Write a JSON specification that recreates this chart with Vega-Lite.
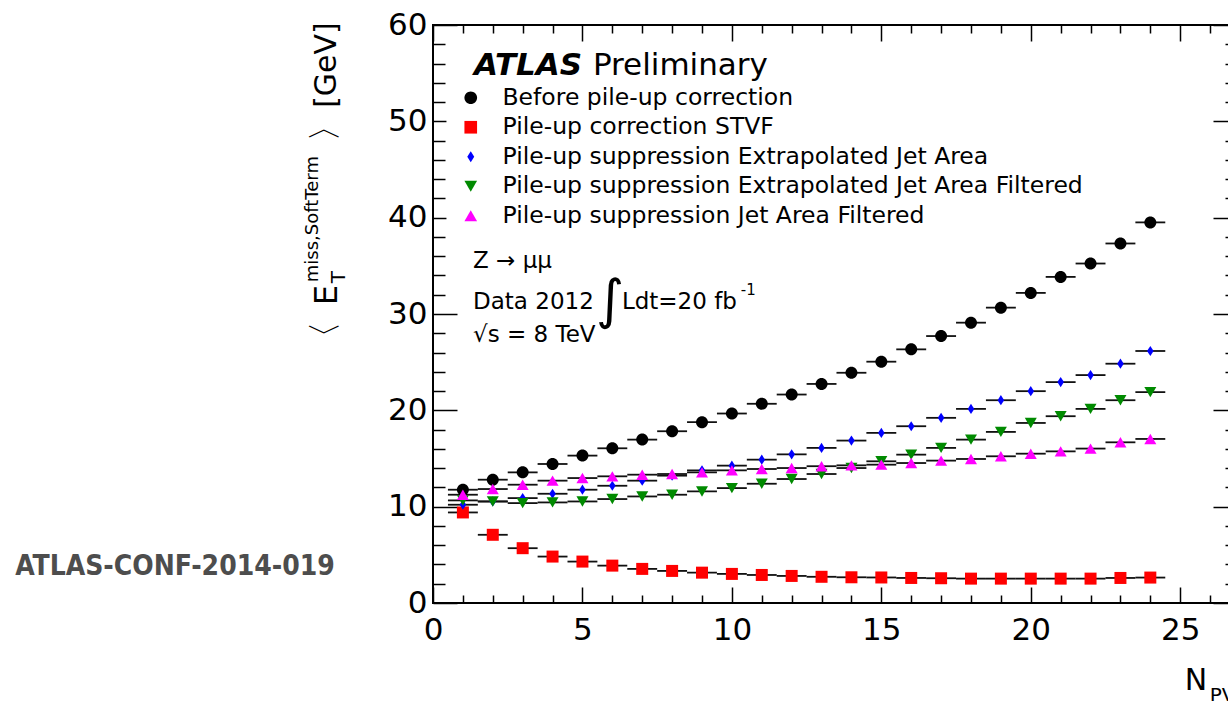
{
  "$schema": "https://vega.github.io/schema/vega-lite/v6.json",
  "width": 804,
  "height": 578,
  "autosize": {"type": "none"},
  "padding": {"left": 433, "top": 25, "right": 0, "bottom": 98},
  "background": "white",
  "config": {
    "view": {"stroke": "black", "strokeWidth": 2},
    "axis": {"domain": false, "grid": false, "labelFont": "DejaVu Sans", "labelFontSize": 31, "labelColor": "black", "tickColor": "black", "tickWidth": 1.5, "labelOverlap": false, "labelFlush": false, "labelBound": false},
    "text": {"font": "DejaVu Sans", "color": "black"}
  },
  "datasets": {
    "pts": [
      {"series": "Before pile-up correction", "x": 1, "y": 11.76},
      {"series": "Before pile-up correction", "x": 2, "y": 12.8},
      {"series": "Before pile-up correction", "x": 3, "y": 13.56},
      {"series": "Before pile-up correction", "x": 4, "y": 14.43},
      {"series": "Before pile-up correction", "x": 5, "y": 15.3},
      {"series": "Before pile-up correction", "x": 6, "y": 16.06},
      {"series": "Before pile-up correction", "x": 7, "y": 16.96},
      {"series": "Before pile-up correction", "x": 8, "y": 17.83},
      {"series": "Before pile-up correction", "x": 9, "y": 18.77},
      {"series": "Before pile-up correction", "x": 10, "y": 19.67},
      {"series": "Before pile-up correction", "x": 11, "y": 20.68},
      {"series": "Before pile-up correction", "x": 12, "y": 21.64},
      {"series": "Before pile-up correction", "x": 13, "y": 22.74},
      {"series": "Before pile-up correction", "x": 14, "y": 23.9},
      {"series": "Before pile-up correction", "x": 15, "y": 25.05},
      {"series": "Before pile-up correction", "x": 16, "y": 26.33},
      {"series": "Before pile-up correction", "x": 17, "y": 27.71},
      {"series": "Before pile-up correction", "x": 18, "y": 29.1},
      {"series": "Before pile-up correction", "x": 19, "y": 30.66},
      {"series": "Before pile-up correction", "x": 20, "y": 32.19},
      {"series": "Before pile-up correction", "x": 21, "y": 33.85},
      {"series": "Before pile-up correction", "x": 22, "y": 35.24},
      {"series": "Before pile-up correction", "x": 23, "y": 37.32},
      {"series": "Before pile-up correction", "x": 24, "y": 39.51},
      {"series": "Pile-up correction STVF", "x": 1, "y": 9.4},
      {"series": "Pile-up correction STVF", "x": 2, "y": 7.08},
      {"series": "Pile-up correction STVF", "x": 3, "y": 5.69},
      {"series": "Pile-up correction STVF", "x": 4, "y": 4.82},
      {"series": "Pile-up correction STVF", "x": 5, "y": 4.3},
      {"series": "Pile-up correction STVF", "x": 6, "y": 3.88},
      {"series": "Pile-up correction STVF", "x": 7, "y": 3.54},
      {"series": "Pile-up correction STVF", "x": 8, "y": 3.33},
      {"series": "Pile-up correction STVF", "x": 9, "y": 3.15},
      {"series": "Pile-up correction STVF", "x": 10, "y": 3.02},
      {"series": "Pile-up correction STVF", "x": 11, "y": 2.91},
      {"series": "Pile-up correction STVF", "x": 12, "y": 2.81},
      {"series": "Pile-up correction STVF", "x": 13, "y": 2.72},
      {"series": "Pile-up correction STVF", "x": 14, "y": 2.67},
      {"series": "Pile-up correction STVF", "x": 15, "y": 2.65},
      {"series": "Pile-up correction STVF", "x": 16, "y": 2.6},
      {"series": "Pile-up correction STVF", "x": 17, "y": 2.57},
      {"series": "Pile-up correction STVF", "x": 18, "y": 2.53},
      {"series": "Pile-up correction STVF", "x": 19, "y": 2.53},
      {"series": "Pile-up correction STVF", "x": 20, "y": 2.53},
      {"series": "Pile-up correction STVF", "x": 21, "y": 2.53},
      {"series": "Pile-up correction STVF", "x": 22, "y": 2.53},
      {"series": "Pile-up correction STVF", "x": 23, "y": 2.6},
      {"series": "Pile-up correction STVF", "x": 24, "y": 2.64},
      {"series": "Pile-up suppression Extrapolated Jet Area", "x": 1, "y": 10.2},
      {"series": "Pile-up suppression Extrapolated Jet Area", "x": 2, "y": 10.54},
      {"series": "Pile-up suppression Extrapolated Jet Area", "x": 3, "y": 10.89},
      {"series": "Pile-up suppression Extrapolated Jet Area", "x": 4, "y": 11.34},
      {"series": "Pile-up suppression Extrapolated Jet Area", "x": 5, "y": 11.76},
      {"series": "Pile-up suppression Extrapolated Jet Area", "x": 6, "y": 12.17},
      {"series": "Pile-up suppression Extrapolated Jet Area", "x": 7, "y": 12.7},
      {"series": "Pile-up suppression Extrapolated Jet Area", "x": 8, "y": 13.22},
      {"series": "Pile-up suppression Extrapolated Jet Area", "x": 9, "y": 13.77},
      {"series": "Pile-up suppression Extrapolated Jet Area", "x": 10, "y": 14.26},
      {"series": "Pile-up suppression Extrapolated Jet Area", "x": 11, "y": 14.88},
      {"series": "Pile-up suppression Extrapolated Jet Area", "x": 12, "y": 15.43},
      {"series": "Pile-up suppression Extrapolated Jet Area", "x": 13, "y": 16.1},
      {"series": "Pile-up suppression Extrapolated Jet Area", "x": 14, "y": 16.86},
      {"series": "Pile-up suppression Extrapolated Jet Area", "x": 15, "y": 17.66},
      {"series": "Pile-up suppression Extrapolated Jet Area", "x": 16, "y": 18.35},
      {"series": "Pile-up suppression Extrapolated Jet Area", "x": 17, "y": 19.22},
      {"series": "Pile-up suppression Extrapolated Jet Area", "x": 18, "y": 20.15},
      {"series": "Pile-up suppression Extrapolated Jet Area", "x": 19, "y": 21.05},
      {"series": "Pile-up suppression Extrapolated Jet Area", "x": 20, "y": 21.99},
      {"series": "Pile-up suppression Extrapolated Jet Area", "x": 21, "y": 22.93},
      {"series": "Pile-up suppression Extrapolated Jet Area", "x": 22, "y": 23.66},
      {"series": "Pile-up suppression Extrapolated Jet Area", "x": 23, "y": 24.84},
      {"series": "Pile-up suppression Extrapolated Jet Area", "x": 24, "y": 26.16},
      {"series": "Pile-up suppression Extrapolated Jet Area Filtered", "x": 1, "y": 10.65},
      {"series": "Pile-up suppression Extrapolated Jet Area Filtered", "x": 2, "y": 10.54},
      {"series": "Pile-up suppression Extrapolated Jet Area Filtered", "x": 3, "y": 10.37},
      {"series": "Pile-up suppression Extrapolated Jet Area Filtered", "x": 4, "y": 10.44},
      {"series": "Pile-up suppression Extrapolated Jet Area Filtered", "x": 5, "y": 10.54},
      {"series": "Pile-up suppression Extrapolated Jet Area Filtered", "x": 6, "y": 10.79},
      {"series": "Pile-up suppression Extrapolated Jet Area Filtered", "x": 7, "y": 11.06},
      {"series": "Pile-up suppression Extrapolated Jet Area Filtered", "x": 8, "y": 11.24},
      {"series": "Pile-up suppression Extrapolated Jet Area Filtered", "x": 9, "y": 11.58},
      {"series": "Pile-up suppression Extrapolated Jet Area Filtered", "x": 10, "y": 11.93},
      {"series": "Pile-up suppression Extrapolated Jet Area Filtered", "x": 11, "y": 12.38},
      {"series": "Pile-up suppression Extrapolated Jet Area Filtered", "x": 12, "y": 12.87},
      {"series": "Pile-up suppression Extrapolated Jet Area Filtered", "x": 13, "y": 13.39},
      {"series": "Pile-up suppression Extrapolated Jet Area Filtered", "x": 14, "y": 14.01},
      {"series": "Pile-up suppression Extrapolated Jet Area Filtered", "x": 15, "y": 14.71},
      {"series": "Pile-up suppression Extrapolated Jet Area Filtered", "x": 16, "y": 15.4},
      {"series": "Pile-up suppression Extrapolated Jet Area Filtered", "x": 17, "y": 16.1},
      {"series": "Pile-up suppression Extrapolated Jet Area Filtered", "x": 18, "y": 16.96},
      {"series": "Pile-up suppression Extrapolated Jet Area Filtered", "x": 19, "y": 17.76},
      {"series": "Pile-up suppression Extrapolated Jet Area Filtered", "x": 20, "y": 18.69},
      {"series": "Pile-up suppression Extrapolated Jet Area Filtered", "x": 21, "y": 19.39},
      {"series": "Pile-up suppression Extrapolated Jet Area Filtered", "x": 22, "y": 20.15},
      {"series": "Pile-up suppression Extrapolated Jet Area Filtered", "x": 23, "y": 21.05},
      {"series": "Pile-up suppression Extrapolated Jet Area Filtered", "x": 24, "y": 21.89},
      {"series": "Pile-up suppression Jet Area Filtered", "x": 1, "y": 11.24},
      {"series": "Pile-up suppression Jet Area Filtered", "x": 2, "y": 11.83},
      {"series": "Pile-up suppression Jet Area Filtered", "x": 3, "y": 12.28},
      {"series": "Pile-up suppression Jet Area Filtered", "x": 4, "y": 12.7},
      {"series": "Pile-up suppression Jet Area Filtered", "x": 5, "y": 12.97},
      {"series": "Pile-up suppression Jet Area Filtered", "x": 6, "y": 13.15},
      {"series": "Pile-up suppression Jet Area Filtered", "x": 7, "y": 13.32},
      {"series": "Pile-up suppression Jet Area Filtered", "x": 8, "y": 13.39},
      {"series": "Pile-up suppression Jet Area Filtered", "x": 9, "y": 13.56},
      {"series": "Pile-up suppression Jet Area Filtered", "x": 10, "y": 13.77},
      {"series": "Pile-up suppression Jet Area Filtered", "x": 11, "y": 13.91},
      {"series": "Pile-up suppression Jet Area Filtered", "x": 12, "y": 14.01},
      {"series": "Pile-up suppression Jet Area Filtered", "x": 13, "y": 14.2},
      {"series": "Pile-up suppression Jet Area Filtered", "x": 14, "y": 14.29},
      {"series": "Pile-up suppression Jet Area Filtered", "x": 15, "y": 14.36},
      {"series": "Pile-up suppression Jet Area Filtered", "x": 16, "y": 14.53},
      {"series": "Pile-up suppression Jet Area Filtered", "x": 17, "y": 14.78},
      {"series": "Pile-up suppression Jet Area Filtered", "x": 18, "y": 14.95},
      {"series": "Pile-up suppression Jet Area Filtered", "x": 19, "y": 15.23},
      {"series": "Pile-up suppression Jet Area Filtered", "x": 20, "y": 15.5},
      {"series": "Pile-up suppression Jet Area Filtered", "x": 21, "y": 15.74},
      {"series": "Pile-up suppression Jet Area Filtered", "x": 22, "y": 16.03},
      {"series": "Pile-up suppression Jet Area Filtered", "x": 23, "y": 16.68},
      {"series": "Pile-up suppression Jet Area Filtered", "x": 24, "y": 17.03}
    ]
  },
  "layer": [
    {
      "data": {"name": "pts"},
      "mark": {"type": "tick", "orient": "horizontal", "size": 29.9, "thickness": 1.8, "color": "#111111", "opacity": 1},
      "encoding": {
        "x": {"field": "x", "type": "quantitative", "scale": {"domain": [0, 26.9], "nice": false, "zero": false}, "axis": {"orient": "bottom", "values": [0, 5, 10, 15, 20, 25], "ticks": false, "labelPadding": 12, "title": null}},
        "y": {"field": "y", "type": "quantitative", "scale": {"domain": [0, 60], "nice": false, "zero": false}, "axis": {"orient": "left", "values": [0, 10, 20, 30, 40, 50, 60], "ticks": false, "labelPadding": 6, "title": null}}
      }
    },
    {
      "data": {"values": [{}]},
      "mark": {"type": "rect", "color": "white", "opacity": 1},
      "encoding": {
        "x": {"datum": 0.45, "type": "quantitative", "axis": {"orient": "top", "values": [0, 5, 10, 15, 20, 25], "labels": false, "tickSize": -16, "title": null}},
        "x2": {"datum": 21},
        "y": {"datum": 38.6, "type": "quantitative", "axis": {"orient": "right", "values": [0, 10, 20, 30, 40, 50, 60], "labels": false, "tickSize": -24, "title": null}},
        "y2": {"datum": 57.9}
      }
    },
    {
      "data": {"name": "pts"},
      "mark": {"type": "point", "filled": true, "opacity": 1, "size": 144, "strokeWidth": 0},
      "encoding": {
        "x": {"field": "x", "type": "quantitative", "axis": {"orient": "bottom", "values": [0, 5, 10, 15, 20, 25], "labels": false, "tickSize": -16, "title": null}},
        "y": {"field": "y", "type": "quantitative", "axis": {"orient": "left", "values": [0, 10, 20, 30, 40, 50, 60], "labels": false, "tickSize": -24, "title": null}},
        "color": {
          "field": "series", "type": "nominal",
          "scale": {"domain": ["Before pile-up correction", "Pile-up correction STVF", "Pile-up suppression Extrapolated Jet Area", "Pile-up suppression Extrapolated Jet Area Filtered", "Pile-up suppression Jet Area Filtered"], "range": ["#000000", "#ff0000", "#0000ff", "#008a00", "#ff00ff"]},
          "legend": {"title": null, "orient": "none", "legendX": 26, "legendY": 61, "labelFont": "DejaVu Sans", "labelFontSize": 23.5, "labelColor": "black", "labelLimit": 2000, "symbolSize": 160, "symbolStrokeWidth": 0, "rowPadding": 4.5, "labelOffset": 20, "padding": 0, "symbolOffset": 0}
        },
        "shape": {
          "field": "series", "type": "nominal",
          "scale": {"domain": ["Before pile-up correction", "Pile-up correction STVF", "Pile-up suppression Extrapolated Jet Area", "Pile-up suppression Extrapolated Jet Area Filtered", "Pile-up suppression Jet Area Filtered"], "range": ["M1,0A1,1,0,1,1,-1,0A1,1,0,1,1,1,0Z", "square", "M0,-0.85L0.55,0L0,0.85L-0.55,0Z", "triangle-down", "triangle-up"]},
          "legend": {"title": null, "orient": "none", "legendX": 26, "legendY": 61, "labelFont": "DejaVu Sans", "labelFontSize": 23.5, "labelColor": "black", "labelLimit": 2000, "symbolSize": 160, "symbolStrokeWidth": 0, "rowPadding": 4.5, "labelOffset": 20, "padding": 0, "symbolOffset": 0}
        }
      }
    },
    {
      "data": {"values": [{}]},
      "mark": {"type": "text", "text": "ATLAS", "fontSize": 31, "fontWeight": "bold", "fontStyle": "italic", "align": "left", "baseline": "alphabetic"},
      "encoding": {
        "x": {"datum": 1.37, "type": "quantitative", "axis": {"orient": "top", "values": [1,2,3,4,6,7,8,9,11,12,13,14,16,17,18,19,21,22,23,24,26], "labels": false, "tickSize": -8, "title": null}},
        "y": {"datum": 54.8, "type": "quantitative", "axis": {"orient": "right", "values": [2,4,6,8,12,14,16,18,22,24,26,28,32,34,36,38,42,44,46,48,52,54,56,58], "labels": false, "tickSize": -12, "title": null}}
      }
    },
    {
      "data": {"values": [{}]},
      "mark": {"type": "text", "text": "Preliminary", "fontSize": 31, "align": "left", "baseline": "alphabetic"},
      "encoding": {
        "x": {"datum": 5.35, "type": "quantitative", "axis": {"orient": "bottom", "values": [1,2,3,4,6,7,8,9,11,12,13,14,16,17,18,19,21,22,23,24,26], "labels": false, "tickSize": -8, "title": null}},
        "y": {"datum": 54.8, "type": "quantitative", "axis": {"orient": "left", "values": [2,4,6,8,12,14,16,18,22,24,26,28,32,34,36,38,42,44,46,48,52,54,56,58], "labels": false, "tickSize": -12, "title": null}}
      }
    },
    {
      "data": {"values": [{}]},
      "mark": {"type": "text", "text": "Z → μμ", "fontSize": 23, "align": "left", "baseline": "alphabetic"},
      "encoding": {"x": {"datum": 1.34, "type": "quantitative", "axis": null}, "y": {"datum": 34.8, "type": "quantitative", "axis": null}}
    },
    {
      "data": {"values": [{}]},
      "mark": {"type": "text", "text": "Data 2012", "fontSize": 23, "align": "left", "baseline": "alphabetic"},
      "encoding": {"x": {"datum": 1.34, "type": "quantitative", "axis": null}, "y": {"datum": 30.5, "type": "quantitative", "axis": null}}
    },
    {
      "data": {"values": [{}]},
      "mark": {"type": "text", "text": "∫", "fontSize": 54, "align": "left", "baseline": "alphabetic"},
      "encoding": {"x": {"datum": 5.45, "type": "quantitative", "axis": null}, "y": {"datum": 29.6, "type": "quantitative", "axis": null}}
    },
    {
      "data": {"values": [{}]},
      "mark": {"type": "text", "text": "Ldt=20 fb", "fontSize": 23, "align": "left", "baseline": "alphabetic"},
      "encoding": {"x": {"datum": 6.32, "type": "quantitative", "axis": null}, "y": {"datum": 30.5, "type": "quantitative", "axis": null}}
    },
    {
      "data": {"values": [{}]},
      "mark": {"type": "text", "text": "-1", "fontSize": 15, "align": "left", "baseline": "alphabetic"},
      "encoding": {"x": {"datum": 10.3, "type": "quantitative", "axis": null}, "y": {"datum": 32.0, "type": "quantitative", "axis": null}}
    },
    {
      "data": {"values": [{}]},
      "mark": {"type": "text", "text": "√s = 8 TeV", "fontSize": 23, "align": "left", "baseline": "alphabetic"},
      "encoding": {"x": {"datum": 1.34, "type": "quantitative", "axis": null}, "y": {"datum": 27.1, "type": "quantitative", "axis": null}}
    },
    {
      "data": {"values": [{}]},
      "mark": {"type": "text", "text": "〈", "fontSize": 34, "angle": 270, "align": "left", "baseline": "alphabetic"},
      "encoding": {"x": {"datum": -3.24, "type": "quantitative", "axis": null}, "y": {"datum": 25.7, "type": "quantitative", "axis": null}}
    },
    {
      "data": {"values": [{}]},
      "mark": {"type": "text", "text": "E", "fontSize": 32, "angle": 270, "align": "left", "baseline": "alphabetic"},
      "encoding": {"x": {"datum": -3.2, "type": "quantitative", "axis": null}, "y": {"datum": 30.9, "type": "quantitative", "axis": null}}
    },
    {
      "data": {"values": [{}]},
      "mark": {"type": "text", "text": "T", "fontSize": 20, "angle": 270, "align": "left", "baseline": "alphabetic"},
      "encoding": {"x": {"datum": -2.95, "type": "quantitative", "axis": null}, "y": {"datum": 33.2, "type": "quantitative", "axis": null}}
    },
    {
      "data": {"values": [{}]},
      "mark": {"type": "text", "text": "miss,SoftTerm", "fontSize": 18, "angle": 270, "align": "left", "baseline": "alphabetic"},
      "encoding": {"x": {"datum": -3.85, "type": "quantitative", "axis": null}, "y": {"datum": 33.3, "type": "quantitative", "axis": null}}
    },
    {
      "data": {"values": [{}]},
      "mark": {"type": "text", "text": "〉", "fontSize": 34, "angle": 270, "align": "left", "baseline": "alphabetic"},
      "encoding": {"x": {"datum": -3.24, "type": "quantitative", "axis": null}, "y": {"datum": 47.9, "type": "quantitative", "axis": null}}
    },
    {
      "data": {"values": [{}]},
      "mark": {"type": "text", "text": "[GeV]", "fontSize": 30, "angle": 270, "align": "left", "baseline": "alphabetic"},
      "encoding": {"x": {"datum": -3.24, "type": "quantitative", "axis": null}, "y": {"datum": 51.4, "type": "quantitative", "axis": null}}
    },
    {
      "data": {"values": [{}]},
      "mark": {"type": "text", "text": "ATLAS-CONF-2014-019", "font": "DejaVu Sans Condensed, Liberation Sans", "fontSize": 28, "fontWeight": "bold", "color": "#4d4d4d", "align": "left", "baseline": "alphabetic"},
      "encoding": {"x": {"datum": -13.98, "type": "quantitative", "axis": null}, "y": {"datum": 2.94, "type": "quantitative", "axis": null}}
    },
    {
      "data": {"values": [{}]},
      "mark": {"type": "text", "text": "N", "fontSize": 30, "align": "left", "baseline": "alphabetic"},
      "encoding": {"x": {"datum": 25.15, "type": "quantitative", "axis": null}, "y": {"datum": -9.0, "type": "quantitative", "axis": null}}
    },
    {
      "data": {"values": [{}]},
      "mark": {"type": "text", "text": "PV", "fontSize": 20, "align": "left", "baseline": "alphabetic"},
      "encoding": {"x": {"datum": 25.99, "type": "quantitative", "axis": null}, "y": {"datum": -10.3, "type": "quantitative", "axis": null}}
    }
  ],
  "resolve": {"scale": {"x": "shared", "y": "shared"}, "axis": {"x": "independent", "y": "independent"}}
}
